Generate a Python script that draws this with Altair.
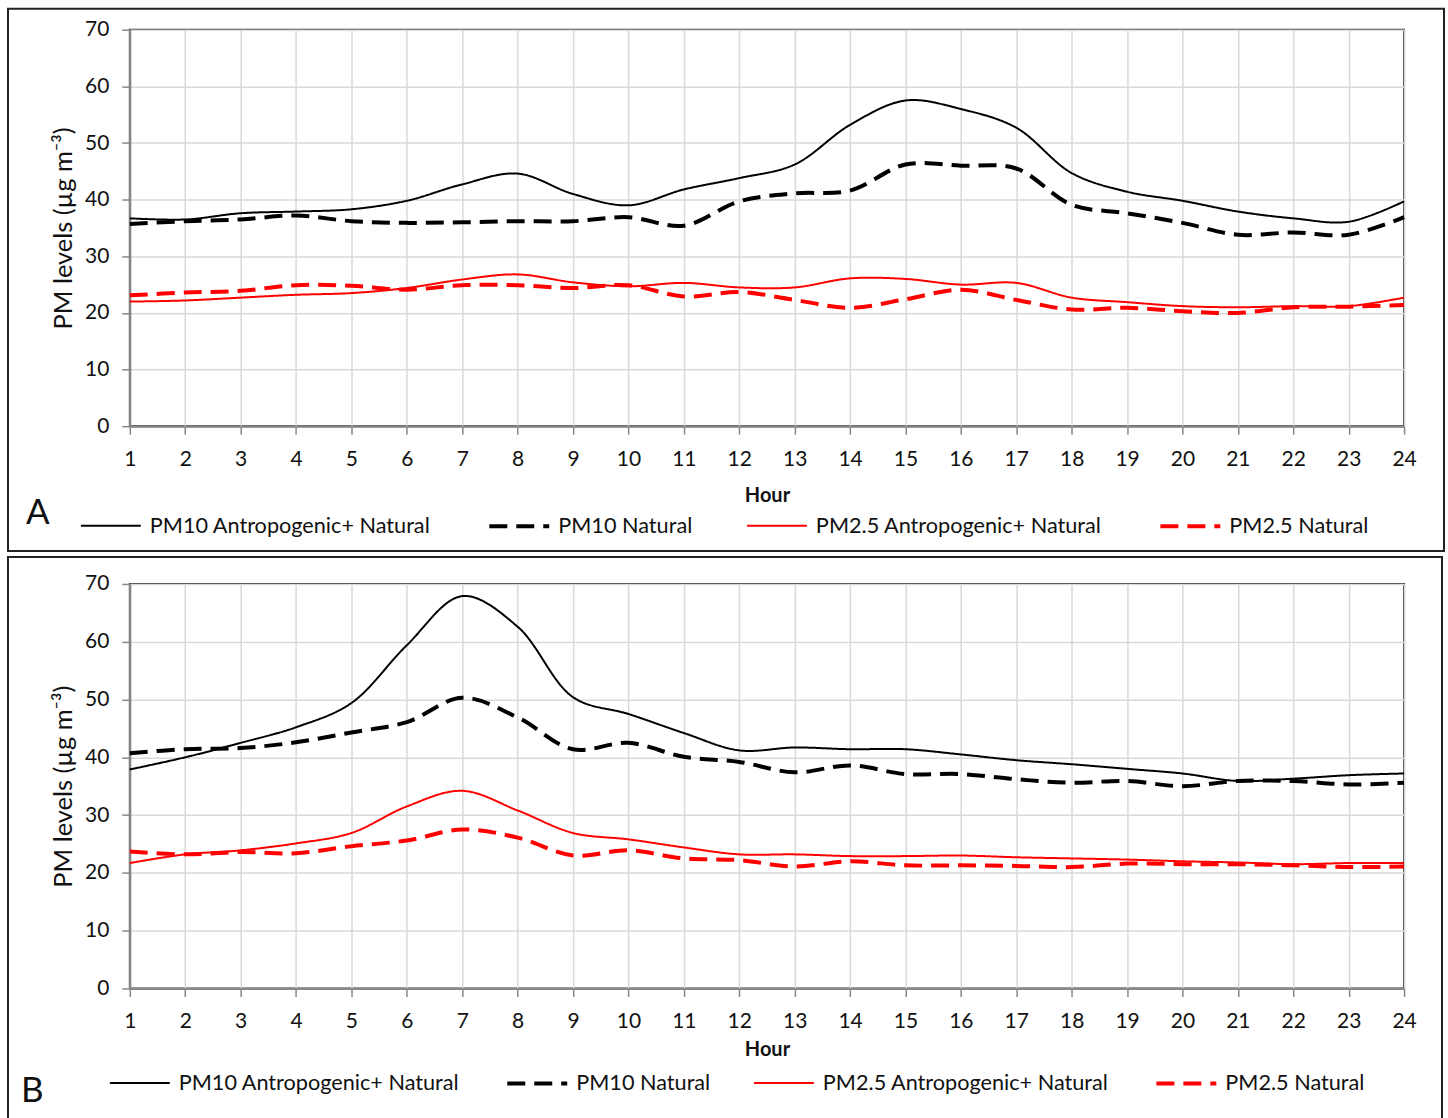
import altair as alt
import pandas as pd

hours = list(range(1, 25))
series_names = [
    "PM10 Antropogenic+ Natural",
    "PM10 Natural",
    "PM2.5 Antropogenic+ Natural",
    "PM2.5 Natural",
]
y_ticks = [0, 10, 20, 30, 40, 50, 60, 70]

# Panel A
a_pm10_total = [36.7, 36.5, 37.6, 37.9, 38.3, 39.8, 42.7, 44.6, 41.0, 39.0, 41.8, 43.8,
                46.2, 53.2, 57.5, 56.0, 52.7, 44.7, 41.4, 39.8, 37.9, 36.7, 36.1, 39.7]
a_pm10_nat = [35.7, 36.2, 36.5, 37.2, 36.2, 35.9, 36.0, 36.2, 36.2, 36.9, 35.4, 39.7,
              41.1, 41.6, 46.2, 46.0, 45.5, 39.1, 37.6, 35.9, 33.8, 34.2, 33.8, 36.9]
a_pm25_total = [22.0, 22.2, 22.7, 23.2, 23.5, 24.4, 25.9, 26.8, 25.4, 24.7, 25.3, 24.5,
                24.5, 26.1, 26.0, 25.0, 25.3, 22.7, 21.9, 21.2, 21.0, 21.2, 21.2, 22.7]
a_pm25_nat = [23.1, 23.6, 23.9, 24.9, 24.8, 24.1, 24.9, 24.9, 24.4, 24.9, 22.9, 23.7,
              22.3, 20.9, 22.4, 24.1, 22.3, 20.6, 20.9, 20.3, 20.0, 21.0, 21.1, 21.4]

# Panel B
b_pm10_total = [37.9, 40.0, 42.5, 45.2, 49.4, 59.4, 67.9, 62.6, 50.4, 47.5, 44.2, 41.2,
                41.7, 41.4, 41.4, 40.5, 39.5, 38.8, 38.0, 37.2, 35.9, 36.3, 36.9, 37.2]
b_pm10_nat = [40.7, 41.4, 41.6, 42.6, 44.3, 46.1, 50.3, 46.9, 41.4, 42.5, 40.1, 39.2,
              37.4, 38.6, 37.1, 37.1, 36.2, 35.6, 35.9, 35.0, 35.9, 35.9, 35.3, 35.6]
b_pm25_total = [21.7, 23.2, 23.9, 25.1, 26.9, 31.5, 34.2, 30.8, 26.9, 25.8, 24.4, 23.2,
                23.2, 22.9, 22.9, 23.0, 22.7, 22.5, 22.3, 22.0, 21.8, 21.5, 21.7, 21.7]
b_pm25_nat = [23.7, 23.2, 23.6, 23.4, 24.6, 25.6, 27.5, 26.1, 23.0, 23.9, 22.5, 22.2,
              21.1, 22.0, 21.3, 21.3, 21.2, 21.0, 21.6, 21.5, 21.5, 21.3, 21.0, 21.1]

FONT = "Lato"
W = 1276


def long_df(lists):
    rows = []
    for name, vals in zip(series_names, lists):
        for h, v in zip(hours, vals):
            rows.append({"hour": h, "value": v, "series": name})
    return pd.DataFrame(rows)


def panel(df, letter, height, frame, letter_pos, legend_pos, col_pad, hour_pad):
    leg = alt.Legend(
        orient="none", legendX=legend_pos[0], legendY=legend_pos[1],
        direction="horizontal", columns=4, title=None,
        symbolType="stroke", symbolSize=3600, labelFont=FONT, labelFontSize=21.7,
        labelColor="#111", labelOffset=7, columnPadding=col_pad, padding=0,
        labelLimit=400,
    )
    lines = alt.Chart(df).mark_line(interpolate="catmull-rom").encode(
        x=alt.X("hour:Q", scale=alt.Scale(domain=[1, 24], nice=False, zero=False),
                axis=alt.Axis(values=hours, title="Hour", titleFontWeight="bold",
                              titleFontSize=20, titlePadding=hour_pad,
                              labelPadding=14, labelFlush=False)),
        y=alt.Y("value:Q", scale=alt.Scale(domain=[0, 70], nice=False),
                axis=alt.Axis(values=y_ticks, title="PM levels (µg m⁻³)",
                              titleFontSize=25.5, titleFontWeight="normal",
                              titlePadding=8, labelPadding=13)),
        color=alt.Color("series:N", sort=series_names,
                        scale=alt.Scale(domain=series_names,
                                        range=["#000000", "#000000", "#ff0000", "#ff0000"]),
                        legend=leg),
        strokeDash=alt.StrokeDash("series:N", sort=series_names,
                                  scale=alt.Scale(domain=series_names,
                                                  range=[[1, 0], [18, 9], [1, 0], [18, 9]]),
                                  legend=leg),
        strokeWidth=alt.StrokeWidth("series:N", sort=series_names,
                                    scale=alt.Scale(type="ordinal", domain=series_names,
                                                    range=[2, 4, 2, 4]),
                                    legend=leg),
    )
    one = pd.DataFrame({"k": [0]})
    box = alt.Chart(one).mark_rect(fillOpacity=0, stroke="#222222", strokeWidth=2).encode(
        x=alt.value(frame[0]), x2=alt.value(frame[1]),
        y=alt.value(frame[2]), y2=alt.value(frame[3]),
    )
    txt = alt.Chart(one).mark_text(text=letter, font=FONT, fontSize=35, align="left",
                                   baseline="alphabetic", color="#111").encode(
        x=alt.value(letter_pos[0]), y=alt.value(letter_pos[1]),
    )
    return alt.layer(box, lines, txt).properties(width=W, height=height)


chart_a = panel(long_df([a_pm10_total, a_pm10_nat, a_pm25_total, a_pm25_nat]), "A", 397,
                (-122, 1316, -21, 522), (-104, 495), (-51, 465), 50, 16)
chart_b = panel(long_df([b_pm10_total, b_pm10_nat, b_pm25_total, b_pm25_nat]), "B", 405,
                (-122, 1314, -27, 541), (-109, 519), (-22, 468), 39, 8)

chart = alt.vconcat(chart_a, chart_b, spacing=2).resolve_scale(
    color="independent", strokeDash="independent", strokeWidth="independent",
    x="independent", y="independent",
).properties(
    padding={"left": 6, "top": 6, "right": 2, "bottom": 0},
    background="white",
).configure_view(
    stroke="#333333", strokeWidth=2,
).configure_axis(
    grid=True, gridColor="#d9d9d9", gridWidth=1.5,
    domainColor="#888888", domainWidth=2,
    tickColor="#888888", tickSize=8, tickWidth=1.5,
    labelFont=FONT, labelFontSize=21, labelColor="#111111",
    titleFont=FONT, titleColor="#111111",
)

chart.save("out.html", embed_options={"renderer": "svg", "actions": False})
